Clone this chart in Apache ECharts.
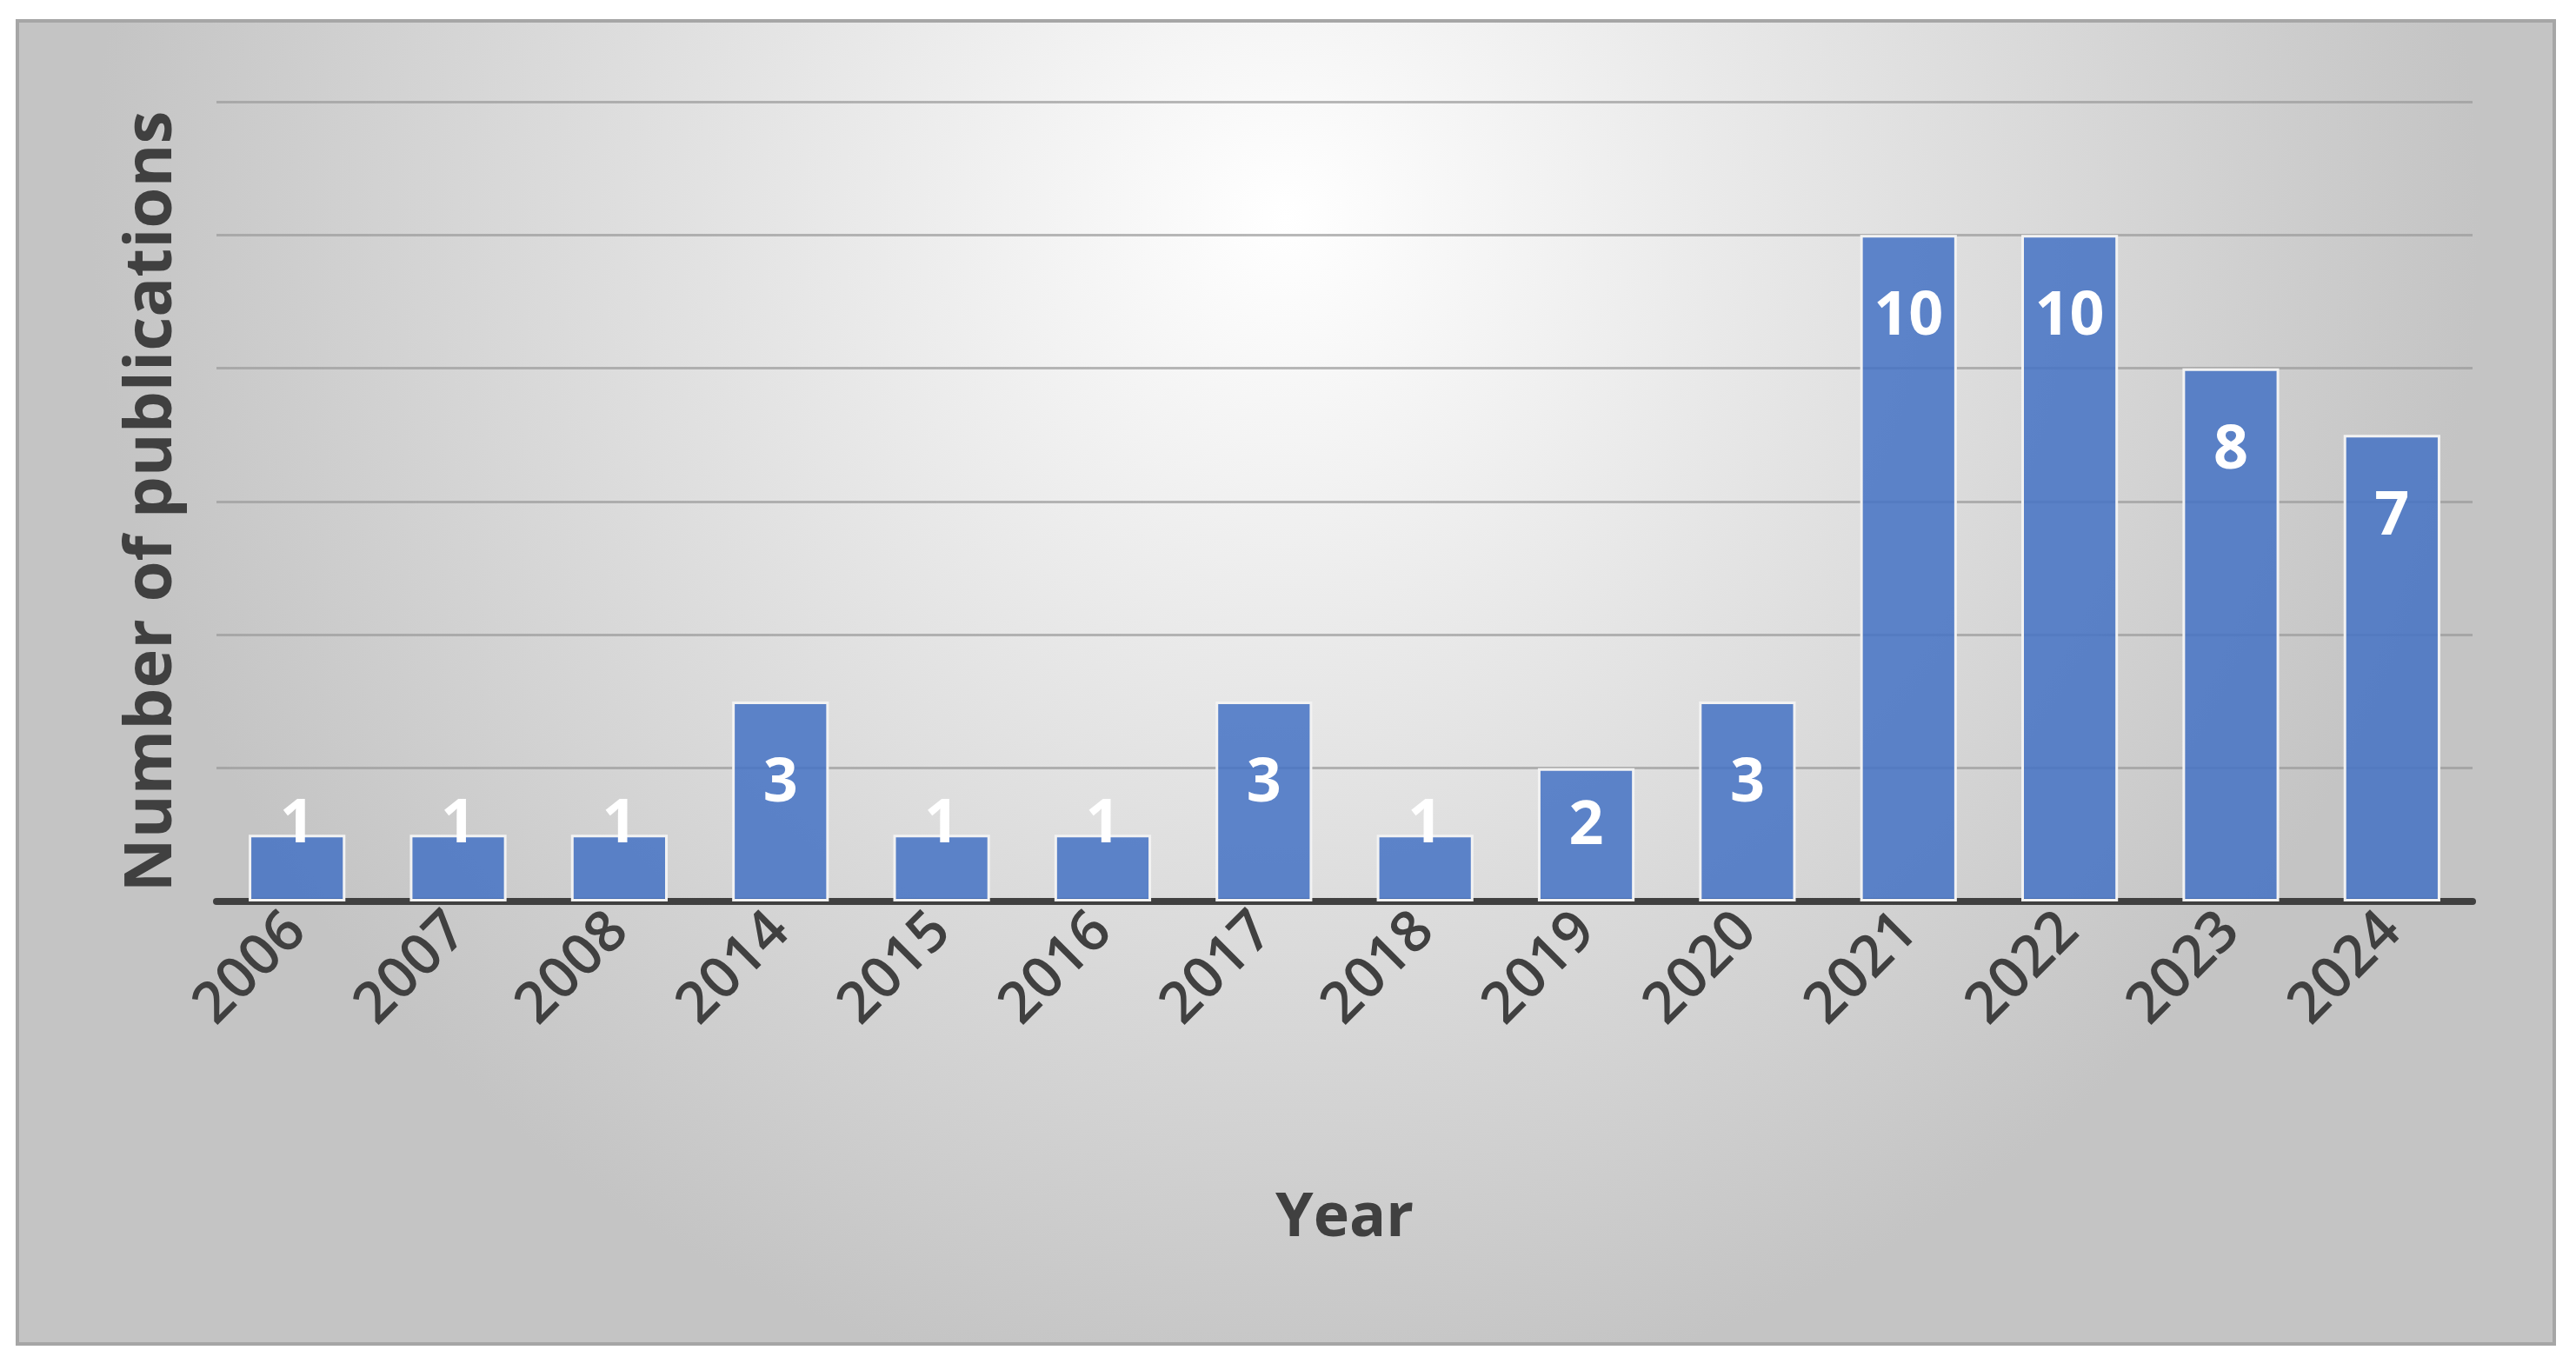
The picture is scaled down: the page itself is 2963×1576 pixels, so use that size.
<!DOCTYPE html>
<html>
<head>
<meta charset="utf-8">
<script src="https://cdn.jsdelivr.net/npm/echarts@6/dist/echarts.min.js"></script>
<style>
  html, body { margin: 0; padding: 0; background: #ffffff; }
  #chart { width: 2963px; height: 1576px; }
</style>
</head>
<body>
<div id="chart"></div>
<script>
// publications per year
const years = ['2006', '2007', '2008', '2014', '2015', '2016', '2017', '2018', '2019', '2020', '2021', '2022', '2023', '2024'];
const counts = [1, 1, 1, 3, 1, 1, 3, 1, 2, 3, 10, 10, 8, 7];

// Excel-style "inside end" labels: short bars push the label out past the top
function labelDistance(v) {
    if (v === 1) return -46;
    if (v === 2) return 32;
    return 60;
}

const chart = echarts.init(document.getElementById('chart'));

const option = {
    backgroundColor: '#ffffff',
    animation: false,
    graphic: [
        {
            type: 'rect',
            z: -10,
            shape: { x: 20, y: 24, width: 2918, height: 1522 },
            style: {
                fill: {
                    type: 'radial',
                    x: 0.5, y: 0.15, r: 0.9,
                    colorStops: [
                        { offset: 0, color: '#ffffff' },
                        { offset: 1, color: '#c4c4c4' }
                    ]
                },
                stroke: '#a6a6a6',
                lineWidth: 4
            }
        }
    ],
    grid: {
        left: 249,
        right: 119,
        top: 117,
        bottom: 539
    },
    xAxis: {
        type: 'category',
        data: years,
        name: 'Year',
        nameLocation: 'middle',
        nameGap: 330,
        nameTextStyle: {
            fontFamily: 'Open Sans',
            fontWeight: 'bold',
            fontSize: 70,
            color: '#404040'
        },
        axisLine: { lineStyle: { color: '#404040', width: 8 } },
        axisTick: { show: false },
        axisLabel: {
            rotate: 45,
            fontFamily: 'Open Sans',
            fontWeight: 600,
            fontSize: 66,
            color: '#404040',
            margin: 24
        }
    },
    yAxis: {
        type: 'value',
        min: 0,
        max: 12,
        interval: 2,
        name: 'Number of publications',
        nameLocation: 'middle',
        nameGap: 36,
        nameTextStyle: {
            fontFamily: 'Open Sans',
            fontWeight: 'bold',
            fontSize: 76,
            color: '#404040'
        },
        axisLine: { show: false },
        axisTick: { show: false },
        axisLabel: { show: false },
        splitLine: { lineStyle: { color: '#9a9a9a', width: 3, opacity: 0.7 } }
    },
    series: [
        {
            type: 'bar',
            data: counts.map(function (v) {
                return { value: v, label: { distance: labelDistance(v) } };
            }),
            barWidth: '60%',
            itemStyle: {
                color: 'rgba(68, 114, 196, 0.85)',
                borderColor: '#f2f2f2',
                borderWidth: 3
            },
            label: {
                show: true,
                position: 'insideTop',
                fontFamily: 'Open Sans',
                fontWeight: 'bold',
                fontSize: 70,
                color: '#ffffff'
            }
        }
    ]
};

chart.setOption(option);
</script>
</body>
</html>
